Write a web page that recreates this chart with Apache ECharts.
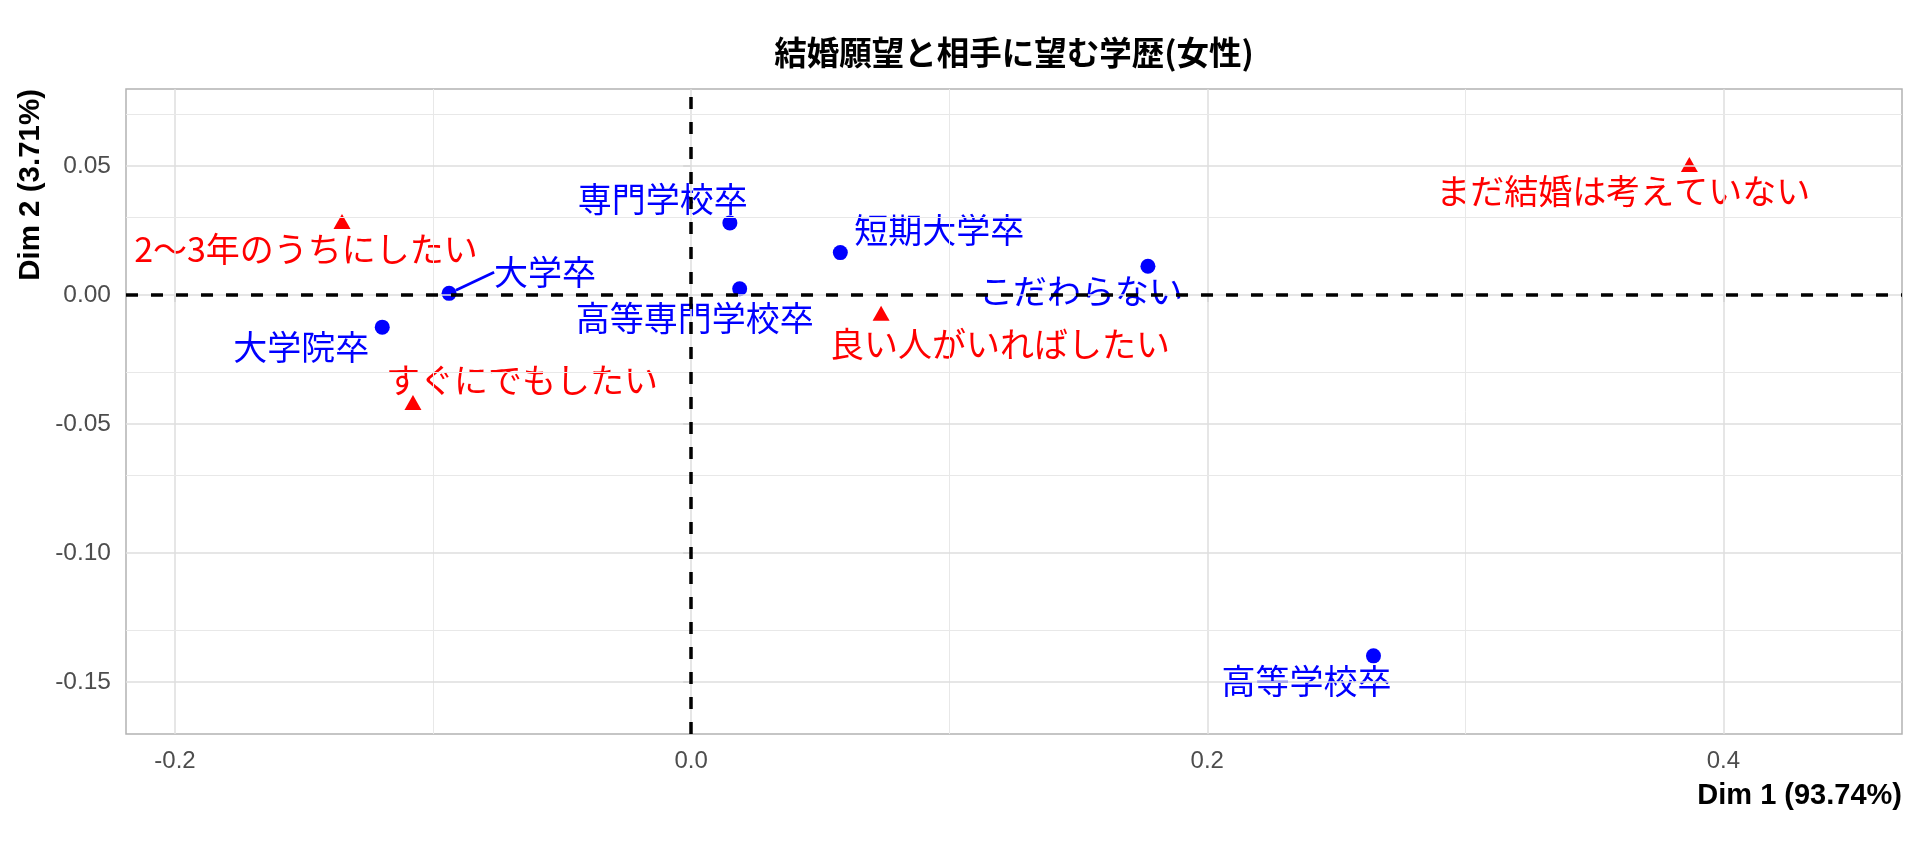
<!DOCTYPE html>
<html>
<head>
<meta charset="utf-8">
<script src="https://cdn.jsdelivr.net/npm/echarts@6/dist/echarts.min.js"></script>
<style>html,body{margin:0;padding:0;background:#fff}#c{width:1920px;height:853px}</style>
</head>
<body>
<div id="c"></div>
<script>
// ---- data ----
const titleText = '結婚願望と相手に望む学歴(女性)';
const xTitle = 'Dim 1 (93.74%)';
const yTitle = 'Dim 2 (3.71%)';
const rowNames = ['すぐにでもしたい', '2〜3年のうちにしたい', '良い人がいればしたい', 'まだ結婚は考えていない'];
const rowDim1 = [-0.1078, -0.1353, 0.0736, 0.3868];
const rowDim2 = [-0.0417, 0.0284, -0.0071, 0.0505];
const colNames = ['大学院卒', '大学卒', '短期大学卒', '高等専門学校卒', '専門学校卒', '高等学校卒', 'こだわらない'];
const colDim1 = [-0.1197, -0.0938, 0.0578, 0.0188, 0.0150, 0.2644, 0.1770];
const colDim2 = [-0.0125, 0.0006, 0.0164, 0.0024, 0.0279, -0.1399, 0.0111];
const xTicks = [-0.2, 0.0, 0.2, 0.4];
const xMinor = [-0.1, 0.1, 0.3];
const yTicks = [0.05, 0.00, -0.05, -0.10, -0.15];
const yMinor = [0.075, 0.025, -0.025, -0.075, -0.125];

// ---- layout (label placement, px) ----
const rowLabelOffset = [[109, -22], [-36, 27], [119, 31], [-66, 26]];
const colLabelOffset = [[-81, 20], [96, -21], [99, -22], [-45, 29], [-67, -24], [-67, 25], [-67, 25]];

const FONT_CJK = '"Noto Sans CJK JP", "Noto Sans", sans-serif';
const FONT_LAT = '"Liberation Sans", Arial, sans-serif';
const GL = {left: 126, right: 1902, top: 89, bottom: 734};

const chart = echarts.init(document.getElementById('c'), null, {renderer: 'canvas'});

const gridLines = [];
xTicks.forEach(v => gridLines.push({xAxis: v, lineStyle: {color: '#DEDEDE', width: 1.5, type: 'solid'}}));
xMinor.forEach(v => gridLines.push({xAxis: v, lineStyle: {color: '#E8E8E8', width: 1, type: 'solid'}}));
yTicks.forEach(v => gridLines.push({yAxis: v, lineStyle: {color: '#DEDEDE', width: 1.5, type: 'solid'}}));
yMinor.forEach(v => gridLines.push({yAxis: v, lineStyle: {color: '#E8E8E8', width: 1, type: 'solid'}}));

const labelStyle = (color) => ({
  show: true, position: 'inside', color: color, opacity: 1,
  fontFamily: FONT_CJK, fontSize: 34, formatter: p => p.name
});

const option = {
  animation: false,
  backgroundColor: '#ffffff',
  grid: {left: GL.left, right: 1920 - GL.right, top: GL.top, bottom: 853 - GL.bottom,
         show: true, borderColor: '#B3B3B3', borderWidth: 1.5, backgroundColor: 'transparent'},
  xAxis: {
    type: 'value', min: -0.219, max: 0.4692,
    axisLine: {show: false},
    splitLine: {show: false},
    axisTick: {show: true, customValues: xTicks, length: 7, lineStyle: {color: '#B3B3B3', width: 1.5}},
    axisLabel: {customValues: xTicks, margin: 15, color: '#4D4D4D', fontFamily: FONT_LAT, fontSize: 24,
                formatter: v => v.toFixed(1)}
  },
  yAxis: {
    type: 'value', min: -0.1702, max: 0.0798,
    axisLine: {show: false},
    splitLine: {show: false},
    axisTick: {show: true, customValues: yTicks, length: 8, lineStyle: {color: '#B3B3B3', width: 1.5}},
    axisLabel: {customValues: yTicks, margin: 15, color: '#4D4D4D', fontFamily: FONT_LAT, fontSize: 24.5,
                formatter: v => v.toFixed(2)}
  },
  graphic: [
    {type: 'text', x: (GL.left + GL.right) / 2, y: 53,
     style: {text: titleText, textAlign: 'center', textVerticalAlign: 'middle',
             font: 'bold 32.5px ' + FONT_CJK, fill: '#000'}},
    {type: 'text', x: GL.right, y: 796,
     style: {text: xTitle, textAlign: 'right', textVerticalAlign: 'middle',
             font: 'bold 29px ' + FONT_LAT, fill: '#000'}},
    {type: 'text', x: 31, y: GL.top, rotation: Math.PI / 2,
     style: {text: yTitle, textAlign: 'right', textVerticalAlign: 'middle',
             font: 'bold 29.5px ' + FONT_LAT, fill: '#000'}}
  ],
  series: [
    {
      type: 'scatter', data: [], z: 1, silent: true,
      markLine: {silent: true, symbol: 'none', label: {show: false}, animation: false,
                 data: gridLines}
    },
    {
      type: 'scatter', data: [], z: 2, silent: true,
      markLine: {silent: true, symbol: 'none', label: {show: false}, animation: false,
                 lineStyle: {color: '#000', width: 3.5, type: [12, 13]},
                 data: [{xAxis: 0}, {yAxis: 0}]}
    },
    {
      name: 'col', type: 'scatter', z: 3,
      symbol: 'circle', symbolSize: 15,
      itemStyle: {color: '#0000FF', opacity: 1},
      label: labelStyle('#0000FF'),
      labelLine: {show: false},
      data: colNames.map((n, i) => ({
        name: n, value: [colDim1[i], colDim2[i]],
        labelLine: n === '大学卒' ? {show: true, lineStyle: {color: '#0000FF', width: 2.8, opacity: 1}} : {show: false}
      })),
      labelLayout: p => ({dx: colLabelOffset[p.dataIndex][0], dy: colLabelOffset[p.dataIndex][1]})
    },
    {
      name: 'row', type: 'scatter', z: 3,
      symbol: 'triangle', symbolSize: [17, 15],
      itemStyle: {color: '#FF0000', opacity: 1},
      label: labelStyle('#FF0000'),
      data: rowNames.map((n, i) => ({name: n, value: [rowDim1[i], rowDim2[i]]})),
      labelLayout: p => ({dx: rowLabelOffset[p.dataIndex][0], dy: rowLabelOffset[p.dataIndex][1]})
    }
  ]
};
chart.setOption(option);
</script>
</body>
</html>
